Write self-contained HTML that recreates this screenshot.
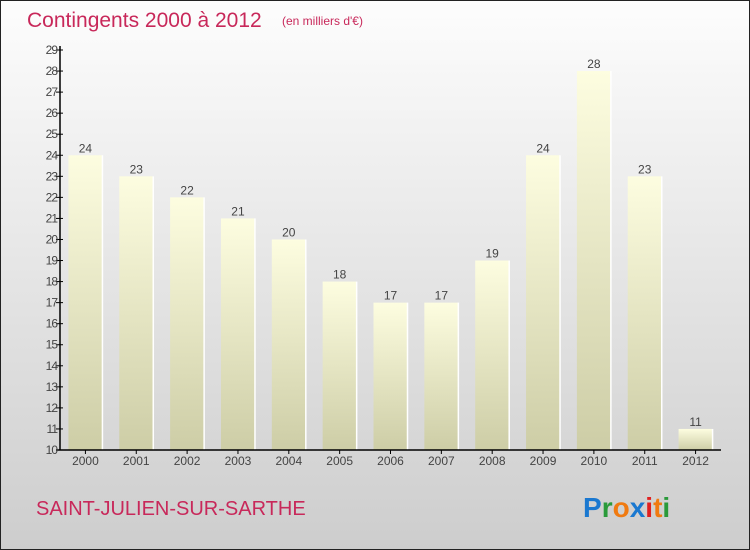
<!DOCTYPE html>
<html><head><meta charset="utf-8"><style>
body{margin:0}
svg{display:block;font-family:"Liberation Sans",sans-serif}
</style></head><body>
<svg id="c" width="750" height="550" viewBox="0 0 750 550">
<defs>
<linearGradient id="bg" x1="0" y1="0" x2="0" y2="1"><stop offset="0" stop-color="#fdfdfd"/><stop offset="1" stop-color="#cdcdcd"/></linearGradient>
<linearGradient id="bar" x1="0" y1="0" x2="0" y2="1"><stop offset="0" stop-color="#fdfde0"/><stop offset="1" stop-color="#cdcda6"/></linearGradient>
</defs>
<rect x="0.5" y="0.5" width="749" height="549" fill="url(#bg)" stroke="#222"/>
<text x="27" y="27" font-size="21" fill="#c8285a">Contingents 2000 à 2012</text>
<text x="282" y="25" font-size="12" fill="#c8285a">(en milliers d'€)</text>
<g id="bars"></g>
<g id="axes"></g>
<text x="36" y="515" font-size="20" fill="#c8285a">SAINT-JULIEN-SUR-SARTHE</text>
<g font-size="28" font-weight="bold" font-family="'Liberation Sans',sans-serif">
<text x="583" y="517"><tspan fill="#1a78d0">P</tspan><tspan fill="#2a9a3a">r</tspan><tspan fill="#f07a10">o</tspan><tspan fill="#1a78d0">x</tspan><tspan fill="#e02020">i</tspan><tspan fill="#f07a10">t</tspan><tspan fill="#2a9a3a">i</tspan></text>
</g>
</svg>
<script>
const categories=["2000","2001","2002","2003","2004","2005","2006","2007","2008","2009","2010","2011","2012"];
const values=[24,23,22,21,20,18,17,17,19,24,28,23,11];
const yTicks=[10,11,12,13,14,15,16,17,18,19,20,21,22,23,24,25,26,27,28,29];
const NS="http://www.w3.org/2000/svg";
const x0=60,x1=721,yMin=10,yMax=29,py0=450,py1=50;
const bw=(x1-x0)/categories.length;
function y(v){return py0-(v-yMin)/(yMax-yMin)*(py0-py1);}
function xc(i){return x0+bw*(i+0.5);}
function mk(tag,attrs,parent){const e=document.createElementNS(NS,tag);for(const k in attrs)e.setAttribute(k,attrs[k]);parent.appendChild(e);return e;}
const gb=document.getElementById('bars'),ga=document.getElementById('axes');
values.forEach((v,i)=>{
 const r=mk('rect',{x:xc(i)-17,y:y(v),width:34,height:py0-y(v),fill:'url(#bar)'},gb);
 
 
 const l=mk('line',{x1:xc(i)+17,x2:xc(i)+17,y1:y(v),y2:py0,stroke:'#fff','stroke-width':1.5},gb);
 
 
 const t=mk('text',{x:xc(i),y:y(v)-3,'text-anchor':'middle','font-size':12,fill:'#444'},gb);
 t.textContent=v;
 
 
 const c=mk('text',{x:xc(i),y:py0+15,'text-anchor':'middle','font-size':12,fill:'#444'},ga);
 c.textContent=categories[i];
 
 
 const tk=mk('line',{x1:xc(i),x2:xc(i),y1:py0,y2:py0+4,stroke:'#000'},ga);
 
 
});
const ya=mk('line',{x1:x0,x2:x0,y1:py1-4,y2:py0,stroke:'#000','stroke-width':1.5},ga);


const xa=mk('line',{x1:x0-4,x2:x1,y1:py0,y2:py0,stroke:'#000','stroke-width':1.5},ga);


yTicks.forEach(v=>{
 const tk=mk('line',{x1:x0-4,x2:x0+3,y1:y(v),y2:y(v),stroke:'#000'},ga);
 
 
 const t=mk('text',{x:x0-3,y:y(v)+4,'text-anchor':'end','font-size':12,fill:'#444','letter-spacing':'-1'},ga);
 t.textContent=v;
 
 
});
</script>
</body></html>
